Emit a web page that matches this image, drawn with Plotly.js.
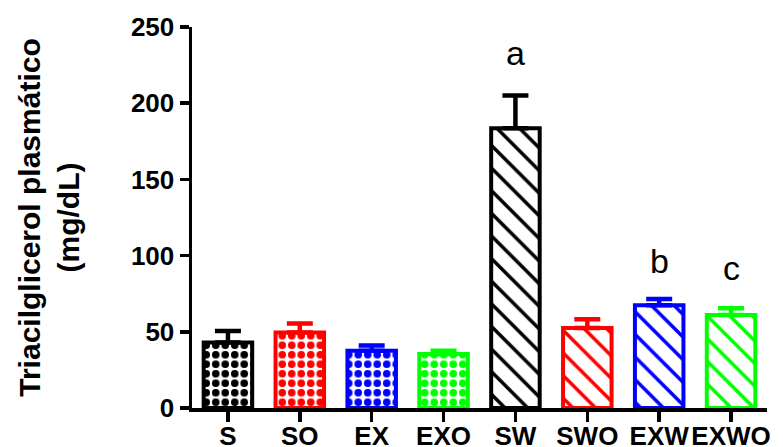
<!DOCTYPE html>
<html>
<head>
<meta charset="utf-8">
<script src="https://cdn.plot.ly/plotly-3.0.1.min.js"></script>
<style>html,body{margin:0;padding:0;background:#fff;}#chart{width:783px;height:447px;}</style>
</head>
<body>
<div id="chart"></div>
<script>
// ---- data ----
const categories = ['S', 'SO', 'EX', 'EXO', 'SW', 'SWO', 'EXW', 'EXWO'];
const values     = [43, 49.5, 37.5, 35.5, 183.5, 52.5, 67.5, 61];
const errorsUp   = [7.5, 6, 3.5, 2, 21.5, 5.7, 4, 4.5];
const barColors  = ['#000000', '#ff0000', '#0000ff', '#00ff00', '#000000', '#ff0000', '#0000ff', '#00ff00'];
const patterns   = ['.', '.', '.', '.', '\\', '\\', '\\', '\\'];
const sigLabels  = ['', '', '', '', 'a', '', 'b', 'c'];
const sigLabelY  = [0, 0, 0, 0, 233, 0, 96.5, 92];
const yTickVals  = [0, 50, 100, 150, 200, 250];

const FONT = 'Arial, "Liberation Sans", Helvetica, sans-serif';

const traces = categories.map((c, i) => ({
  type: 'bar',
  x: [c],
  y: [values[i]],
  width: [0.675],
  marker: {
    color: barColors[i],
    line: {color: barColors[i], width: 4},
    pattern: {shape: patterns[i], fgcolor: barColors[i], bgcolor: '#ffffff',
              size: patterns[i] === '.' ? 9.5 : 16,
              solidity: patterns[i] === '.' ? 0.5 : 0.22, fillmode: 'replace'}
  },
  error_y: {type: 'data', symmetric: false, array: [errorsUp[i]], arrayminus: [0],
            color: barColors[i], thickness: 4.5, width: 13},
  showlegend: false,
  hoverinfo: 'skip'
}));

const annotations = categories.map((c, i) => sigLabels[i] ? {
  x: c, y: sigLabelY[i], xref: 'x', yref: 'y', text: sigLabels[i], showarrow: false,
  yanchor: 'middle', xanchor: 'center', font: {family: FONT, size: 34, color: '#000'}
} : null).filter(Boolean);

const layout = {
  width: 783, height: 447,
  margin: {l: 192, r: 16, t: 27, b: 39},
  paper_bgcolor: '#ffffff', plot_bgcolor: '#ffffff',
  barmode: 'overlay',
  showlegend: false,
  font: {family: FONT, color: '#000'},
  xaxis: {
    type: 'category', range: [-0.5, 7.5],
    showline: true, linecolor: '#000', linewidth: 3.5,
    ticks: 'outside', ticklen: 10, tickwidth: 3.5, tickcolor: '#000',
    ticklabelstandoff: -8,
    tickfont: {family: FONT, size: 26, weight: 'bold', color: '#000'},
    showgrid: false, zeroline: false, fixedrange: true
  },
  yaxis: {
    range: [0, 250], tickvals: yTickVals,
    showline: true, linecolor: '#000', linewidth: 3.5,
    ticks: 'outside', ticklen: 9, tickwidth: 3.5, tickcolor: '#000',
    tickfont: {family: FONT, size: 26, weight: 'bold', color: '#000'},
    showgrid: false, zeroline: false, fixedrange: true,
    title: {text: 'Triacilglicerol plasmático<br>(mg/dL)', standoff: 43,
            font: {family: FONT, size: 30, weight: 'bold', color: '#000'}}
  },
  annotations: annotations
};

Plotly.newPlot('chart', traces, layout, {displayModeBar: false, staticPlot: true});
</script>
</body>
</html>
